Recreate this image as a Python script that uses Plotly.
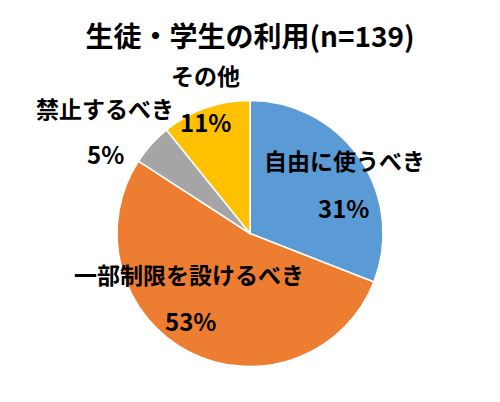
import plotly.graph_objects as go

categories = ["自由に使うべき", "一部制限を設けるべき", "禁止するべき", "その他"]
counts = [43, 74, 7, 15]
colors = ["#5B9BD5", "#ED7D31", "#A5A5A5", "#FFC000"]

# label / percent text centres in pixels (x, y) as seen in the reference
name_pos = [(344, 160), (189, 274), (105, 108), (205, 75)]
pct_pos = [(343, 207), (190, 320), (105, 153), (205, 122)]

W, H = 500, 402
OFF = 8  # page body margin shifts the plot by 8px
total = sum(counts)
font = "Noto Sans CJK JP"


def px_x(x):
    return (x - OFF) / W


def px_y(y):
    return 1 - (y - OFF) / H


fig = go.Figure(go.Pie(
    labels=categories,
    values=counts,
    sort=False,
    direction="clockwise",
    rotation=0,
    marker=dict(colors=colors, line=dict(color="white", width=1.5)),
    textinfo="none",
    hoverinfo="label+percent",
    domain=dict(x=[px_x(117), px_x(383)], y=[px_y(367), px_y(100)]),
    showlegend=False,
))

annotations = []
for cat, c, (nx, ny), (px, py) in zip(categories, counts, name_pos, pct_pos):
    annotations.append(dict(text="<b>%s</b>" % cat, x=px_x(nx), y=px_y(ny),
                            xref="paper", yref="paper", showarrow=False,
                            xanchor="center", yanchor="middle",
                            font=dict(family=font, size=23, color="black")))
    annotations.append(dict(text="<b>%d%%</b>" % round(c / total * 100),
                            x=px_x(px), y=px_y(py),
                            xref="paper", yref="paper", showarrow=False,
                            xanchor="center", yanchor="middle",
                            font=dict(family=font, size=24, color="black")))

fig.update_layout(
    width=W, height=H,
    margin=dict(l=0, r=0, t=0, b=0),
    paper_bgcolor="white",
    title=dict(text="<b>生徒・学生の利用(n=139)</b>", x=px_x(250), xanchor="center",
               y=px_y(37), yanchor="middle",
               font=dict(family=font, size=28, color="black")),
    annotations=annotations,
)

fig.write_html("out.html")
